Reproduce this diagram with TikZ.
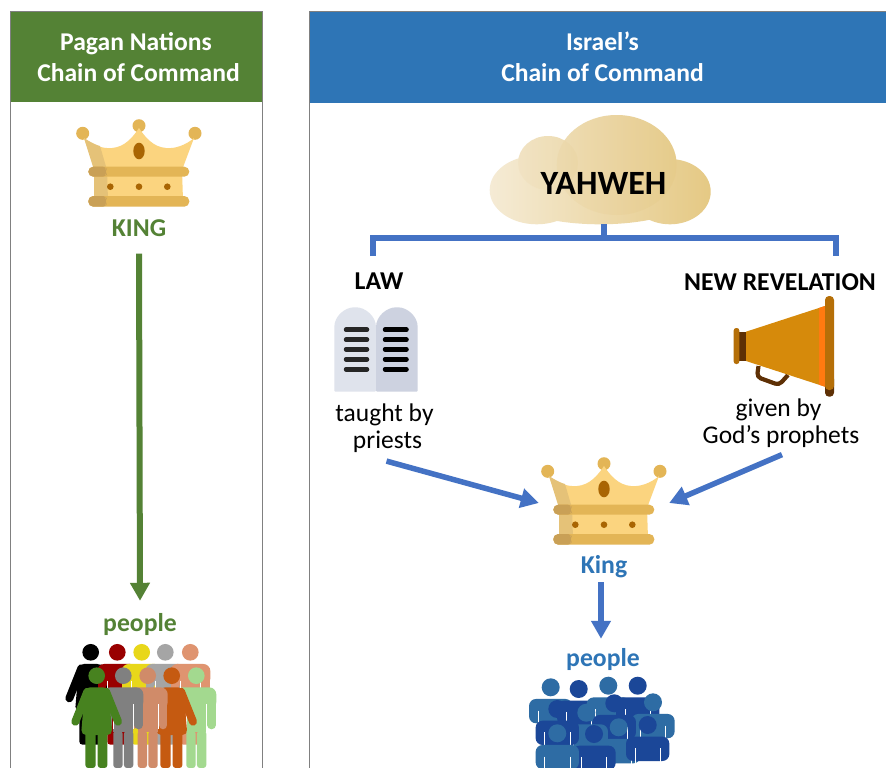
\documentclass[tikz,border=0pt]{standalone}
\usepackage{fontspec}
\setmainfont{Carlito}
\usetikzlibrary{arrows.meta}
\definecolor{gr}{HTML}{548235}
\definecolor{bl}{HTML}{2E75B6}
\definecolor{arr}{HTML}{4472C4}
\definecolor{cbody}{HTML}{FBD47F}
\definecolor{cshade}{HTML}{E5C278}
\definecolor{cband}{HTML}{E3B556}
\definecolor{cbandd}{HTML}{C9A056}
\definecolor{cdot}{HTML}{A96503}
\definecolor{pblue}{HTML}{2E6CA4}
\definecolor{pnavy}{HTML}{1B4798}
\definecolor{pblack}{HTML}{000000}
\definecolor{pred}{HTML}{990000}
\definecolor{pyellow}{HTML}{E8D71A}
\definecolor{pgray}{HTML}{A5A5A5}
\definecolor{psalmon}{HTML}{DF9470}
\definecolor{pgreen}{HTML}{47821F}
\definecolor{pdgray}{HTML}{808080}
\definecolor{psalmon2}{HTML}{D08B69}
\definecolor{porange}{HTML}{C55A11}
\definecolor{plgreen}{HTML}{A3D98F}
\definecolor{tabL}{HTML}{DFE3EC}
\definecolor{tabR}{HTML}{CDD2E0}
\definecolor{cloudL}{HTML}{F5EBD5}
\definecolor{cloudR}{HTML}{E5C984}
\definecolor{cloudO}{HTML}{D9A94A}
\definecolor{mdark}{HTML}{5E3005}
\definecolor{mhorn}{HTML}{D68A0B}
\definecolor{mbell}{HTML}{B56F08}
\definecolor{mband}{HTML}{FF7A10}
\tikzset{
  panel/.style={draw=black!50,line width=0.7pt,fill=white},
  head/.style={text=white,font=\fontsize{25.6}{31}\selectfont\bfseries,align=center},
  lab/.style={font=\fontsize{25.7}{31}\selectfont\bfseries,inner sep=0pt},
  body/.style={font=\fontsize{25.5}{27}\selectfont,align=center,inner sep=0pt},
  garrow/.style={draw=gr,line width=6pt,-{Triangle[width=19pt,length=18pt]}},
  barrow/.style={draw=arr,line width=5.5pt,-{Triangle[width=19pt,length=18pt]}},
  bracket/.style={draw=arr,line width=5.5pt},
  crown/.pic={
    \fill[cband] (82.7,133.3) circle (6.5) (139,125.7) circle (6.5) (195,133.3) circle (6.5);
    \fill[cbody] (84,138) .. controls (92,145) and (103,149) .. (112,148) .. controls (125,147) and (133,137) .. (139,128)
       .. controls (145,137) and (153,147) .. (166,148) .. controls (175,149) and (186,145) .. (194,138)
       -- (182,170) -- (183,200) -- (95,200) -- (95,170) -- cycle;
    \fill[cshade] (84,138) .. controls (90,142) and (96,145) .. (100,146) -- (107,170) -- (108,200) -- (94,200) -- (94,170) -- cycle;
    \fill[cband,rounded corners=5] (88.3,166.7) rectangle (189.3,176.7);
    \fill[cband,rounded corners=5] (88.3,196) rectangle (189.3,206.7);
    \fill[cbandd,rounded corners=5] (88.3,166.7) -- (108,166.7) -- (104,171.7) -- (108,176.7) -- (88.3,176.7) -- cycle;
    \fill[cbandd,rounded corners=5] (88.3,196) -- (108,196) -- (104,201) -- (108,206.7) -- (88.3,206.7) -- cycle;
    \fill[cdot] (139,151) ellipse [x radius=5.7,y radius=8.3];
    \fill[cdot] (110.3,186.7) circle (3.3) (139,186.7) circle (3.3) (167.3,186.7) circle (3.3);
  }
}
\newcommand{\manfig}[3]{\begin{scope}[shift={(#1,#2)},x=0.3333pt,y=-0.3333pt]
  \fill[#3] (0,0) circle (25*0.3333pt);
  \fill[#3,rounded corners=7pt] (-60,35) rectangle (60,100);
  \draw[#3,line width=8.5pt,line cap=round] (-46,70) -- (-46,148) (46,70) -- (46,148);
  \fill[#3] (-30,60) rectangle (30,170);
  \fill[#3,rounded corners=3pt] (-30,165) rectangle (-2,277);
  \fill[#3,rounded corners=3pt] (2,165) rectangle (30,277);
  \draw[white,line width=0.5pt] (-31,85) -- (-31,160) (31,85) -- (31,160);
\end{scope}}
\newcommand{\womanfig}[3]{\begin{scope}[shift={(#1,#2)},x=0.3333pt,y=-0.3333pt]
  \fill[#3] (0,0) circle (25*0.3333pt);
  \fill[#3,rounded corners=5pt] (-35,35) -- (35,35) -- (47,178) -- (-47,178) -- cycle;
  \draw[#3,line width=8pt,line cap=round] (-28,48) -- (-64,138) (28,48) -- (64,138);
  \fill[#3,rounded corners=3pt] (-34,170) rectangle (-3,277);
  \fill[#3,rounded corners=3pt] (3,170) rectangle (32,277);
\end{scope}}
\newcommand{\bustfig}[3]{\begin{scope}[shift={(#1,#2)},x=0.3333pt,y=-0.3333pt]
  \fill[#3] (0,0) circle (27*0.3333pt);
  \fill[#3,rounded corners=7pt] (-65,35) -- (65,35) -- (65,108) -- (-65,108) -- cycle;
  \draw[white,line width=0.6pt] (-38,70) -- (-38,115) (38,70) -- (38,115);
\end{scope}}
\begin{document}
\begin{tikzpicture}[x=1pt,y=-1pt]
\clip (0,0) rectangle (886,768);
\fill[white] (0,0) rectangle (886,768);
% panels
\draw[panel] (10.5,11) rectangle (262,800);
\draw[panel] (309.5,11) rectangle (900,800);
\fill[gr] (11,11.5) rectangle (261.5,102);
\draw[black!50,line width=0.7pt] (10.5,11) -- (262,11);
\fill[bl] (310,11.5) rectangle (900,103);
\draw[black!50,line width=0.7pt] (309.5,11) -- (900,11);
\node[head] (titleL) at (138.5,57.5) {Pagan Nations\hspace*{5pt}\\Chain of Command};
\node[head] (titleR) at (602.5,56.5) {Israel’s\\Chain of Command};
% left crown
\pic at (0,0) {crown};
\node[lab,text=gr] (king) at (139,228) {KING};
\node[lab,text=gr] (peopleL) at (140,624) {people};
\draw[garrow] ([yshift=-17pt]king.south) -- ([yshift=12pt]peopleL.north);
% left crowd
\womanfig{90.7}{652.3}{pblack}
\manfig{117.3}{652.3}{pred}
\manfig{141.7}{652.3}{pyellow}
\manfig{165.3}{652.3}{pgray}
\manfig{190.3}{652.3}{psalmon}
\manfig{196.3}{675.7}{plgreen}
\womanfig{171.7}{675.7}{porange}
\manfig{147.7}{675.7}{psalmon2}
\manfig{123.3}{675.7}{pdgray}
\womanfig{96.7}{675.7}{pgreen}
% cloud
\shade[left color=cloudL,right color=cloudR]
  (536.7,190) ellipse [x radius=47,y radius=34.3]
  (670,191.7) ellipse [x radius=40.7,y radius=32.6]
  (548,163) ellipse [x radius=30,y radius=27]
  (616.7,165) ellipse [x radius=60,y radius=50]
  (600,190) ellipse [x radius=100,y radius=34.3];
\fill[cloudO,opacity=0.05] (548,163) ellipse [x radius=30,y radius=27];
\fill[cloudO,opacity=0.07] (616.7,165) ellipse [x radius=60,y radius=50];
\node[lab,font=\fontsize{34}{38}\selectfont\bfseries] (yahweh) at (603.5,183) {YAHWEH};
\coordinate (cloudB) at (604,224);
\node[lab] (law) at (379,281.5) {LAW};
\node[lab] (newrev) at (780,282.5) {NEW REVELATION};
\coordinate (brL) at (373,256);
\coordinate (brR) at (836,256);
\coordinate (brM) at (604,238);
\draw[bracket,line join=miter] (brL) -- (373,238) -- (836,238) -- (brR);
\draw[bracket] (cloudB) -- (brM);
% tablets
\fill[tabL,rounded corners=1pt] (334.3,391.7) -- (334.3,328) .. controls (334.3,316) and (345,307.3) .. (355.2,307.3) .. controls (365,307.3) and (376,316) .. (376,328) -- (376,391.7) -- cycle;
\fill[tabR,rounded corners=1pt] (376,391.7) -- (376,328) .. controls (376,316) and (387,307.3) .. (397,307.3) .. controls (407,307.3) and (417.7,316) .. (417.7,328) -- (417.7,391.7) -- cycle;
\foreach \y in {329.7,339.7,349.3,359.3,369.3}{
  \draw[black!85,line width=4.5pt,line cap=round] (346,\y) -- (367,\y);
  \draw[black,line width=4.5pt,line cap=round] (385,\y) -- (406.5,\y);
}
% megaphone
\draw[mdark,line width=4.2pt,rounded corners=4pt] (758.5,366) -- (757,377) -- (779,385) -- (788,375);
\fill[mhorn] (746,331.7) -- (825,306) -- (825,386.7) -- (746,361) -- cycle;
\fill[mband] (819,308) -- (825,306) -- (825,386.7) -- (819,384.7) -- cycle;
\fill[mdark] (739.3,331.7) rectangle (746,361);
\fill[mbell,rounded corners=2.5pt] (733.7,328) rectangle (739.3,364);
\fill[mdark,rounded corners=4pt] (825,375) rectangle (834,396.7);
\fill[mbell,rounded corners=4pt] (825,296) rectangle (834,390);
% labels
\node[body] (taught) at (384.5,428.5) {taught by\\\hspace*{6pt}priests};
\node[body] (given) at (781,423) {given by\hspace*{5pt}\\God’s prophets};
% right crown
\pic at (465,338) {crown};
\node[minimum width=130pt,minimum height=90pt,inner sep=0pt] (crownR) at (604,503) {};
\node[lab,text=bl] (kingR) at (604,567) {King};
\node[lab,text=bl] (peopleR) at (603,659) {people};
\draw[barrow] ([xshift=2pt,yshift=-8pt]taught.south) -- (crownR.west);
\draw[barrow] ([xshift=1pt,yshift=-7pt]given.south) -- (crownR.east);
\draw[barrow] ([xshift=-3pt,yshift=-4pt]kingR.south) -- ([xshift=-2pt,yshift=9pt]peopleR.north);
% right crowd
\bustfig{550.7}{687.3}{pblue}
\bustfig{578.7}{689}{pnavy}
\bustfig{608.3}{685.7}{pblue}
\bustfig{637.7}{685.7}{pnavy}
\bustfig{653}{702.3}{pblue}
\bustfig{614.3}{703.3}{pnavy}
\bustfig{586.3}{712.7}{pblue}
\bustfig{557.3}{709}{pnavy}
\bustfig{618.7}{727.3}{pblue}
\bustfig{647.7}{725}{pnavy}
\bustfig{594}{734}{pnavy}
\bustfig{557.3}{733.3}{pblue}
\end{tikzpicture}
\end{document}
